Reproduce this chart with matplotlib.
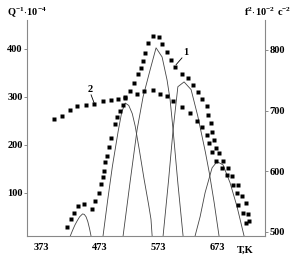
import matplotlib
matplotlib.use("Agg")
import matplotlib.pyplot as plt

plt.rcParams['font.family'] = ['Liberation Serif', 'DejaVu Serif']
plt.rcParams['font.weight'] = 'bold'
plt.rcParams['mathtext.fontset'] = 'custom'
plt.rcParams['mathtext.rm'] = 'Liberation Serif:bold'
plt.rcParams['mathtext.default'] = 'rm'

# curve 1: internal friction Q^-1 * 10^4 (left axis)
t1 = [416.6, 423.4, 428.6, 435.4, 445.6, 459.3, 464.5, 471.3, 474.7, 478.1,
      479.8, 481.5, 485.0, 488.4, 491.8, 498.6, 502.0, 507.2, 512.3, 515.7,
      524.3, 531.1, 538.0, 543.1, 546.5, 550.0, 555.0, 563.6, 573.9, 579.0,
      587.5, 594.4, 601.2, 613.2, 623.4, 632.0, 640.5, 647.4, 655.5, 657.6,
      662.7, 664.5, 667.9, 671.3, 676.4, 683.3, 691.8, 698.6, 708.9, 715.7,
      722.6, 726.0, 727.7]
q1 = [29, 46, 58, 73, 77, 67, 83, 100, 119, 133,
      146, 165, 177, 196, 215, 244, 258, 271, 283, 300,
      313, 329, 348, 360, 375, 392, 412, 427, 425, 410,
      394, 377, 363, 348, 340, 325, 310, 296, 281, 262,
      246, 227, 210, 194, 183, 167, 152, 135, 117, 94,
      79, 56, 42]

# curve 2: f^2 * 10^-2, s^-2 (right axis)
t2 = [394.4, 408.0, 421.7, 433.7, 449.0, 462.7, 478.1, 491.8, 503.8, 515.7,
      536.2, 548.2, 563.6, 575.6, 587.5, 597.8, 613.2, 626.8, 638.8, 647.4,
      655.9, 659.3, 664.5, 671.3, 681.5, 690.1, 700.3, 707.2, 708.9, 717.4,
      722.6]
f2 = [686, 691, 701, 708, 709, 711, 716, 717, 719, 721,
      727, 732, 734, 727, 724, 716, 706, 696, 683, 673,
      660, 647, 632, 617, 605, 594, 577, 564, 544, 531,
      515]

# decomposition peaks (left axis)
peak_a_t = [422, 426, 430, 434, 438, 443, 446, 449, 452, 455, 457.5]
peak_a_q = [10, 22, 33, 42, 50, 56, 55, 50, 40, 25, 10]
peak_b_t = [478, 486, 494, 504, 510, 516, 522, 528, 533, 540, 548, 556, 560, 562]
peak_b_q = [10, 85, 155, 229, 268, 287, 282, 265, 239, 190, 130, 75, 45, 10]
peak_c_t = [512.3, 524, 536.2, 546.5, 558.5, 568.7, 579.0, 587.5, 592.7, 597.8, 606, 614.9]
peak_c_q = [10, 120, 231, 300, 356, 402, 383, 335, 294, 231, 120, 10]
peak_e_t = [580.7, 590, 597.8, 606, 616.6, 628.6, 640, 653, 660, 668, 676.4]
peak_e_q = [10, 125, 231, 321, 331, 315, 260, 185, 140, 80, 10]
peak_d_t = [635.4, 644, 652.5, 664.5, 673, 683.3, 695.2, 707.2, 719.2]
peak_d_q = [10, 50, 100, 152, 165, 158, 121, 71, 10]

x_ticks = [373, 473, 573, 673]
q_ticks = [100, 200, 300, 400]
f_ticks = [500, 600, 700, 800]

fig = plt.figure(figsize=(3.02, 2.59), dpi=100)
ax = fig.add_axes([0.0894, 0.0888, 0.7881, 0.834])
ax2 = ax.twinx()

line_kw = dict(color='#444444', lw=0.6)
for tt, qq in [(peak_a_t, peak_a_q), (peak_b_t, peak_b_q), (peak_c_t, peak_c_q),
               (peak_e_t, peak_e_q), (peak_d_t, peak_d_q)]:
    ax.plot(tt, qq, **line_kw)

ax.plot(t1, q1, 's', color='black', ms=2.5, mec='none')
ax2.plot(t2, f2, 's', color='black', ms=2.5, mec='none')

ax.set_xlim(348, 755)
ax.set_ylim(10, 460)
ax2.set_ylim(493.4, 849)

ax.set_xticks(x_ticks)
ax.set_yticks(q_ticks)
ax2.set_yticks(f_ticks)
fs = 7.5
ax.tick_params(axis='x', length=0, pad=5, labelsize=fs, colors='black')
ax.tick_params(axis='y', length=2, width=0.6, pad=1, labelsize=fs, colors='#777777', labelcolor='black')
ax2.tick_params(axis='y', length=2, width=0.6, pad=1, labelsize=fs, colors='#777777', labelcolor='black')

for a in (ax, ax2):
    a.spines['top'].set_visible(False)
ax.spines['right'].set_visible(False)
ax2.spines['left'].set_visible(False)
ax2.spines['bottom'].set_visible(False)
ax.spines['left'].set_color('#888888')
ax.spines['bottom'].set_color('#888888')
ax2.spines['right'].set_color('#888888')
for s in ('left', 'bottom'):
    ax.spines[s].set_linewidth(0.8)
ax2.spines['right'].set_linewidth(0.8)

# annotations
ax.plot([603, 613], [367, 381], color='black', lw=0.6)
ax.text(615, 383, '1', fontsize=fs, ha='left', va='bottom')
ax.plot([457.6, 462.7], [304, 287.5], color='black', lw=0.6)
ax.text(456, 306, '2', fontsize=fs, ha='center', va='bottom')

fig.text(27 / 302, 1 - 12 / 259, r'$Q^{-1}\!\cdot\!10^{-4}$', fontsize=fs, ha='center', va='center')
fig.text(268 / 302, 1 - 12 / 259, r'$f^{2}\!\cdot\!10^{-2}\ c^{-2}$', fontsize=fs, ha='center', va='center')
fig.text(245 / 302, 1 - 250 / 259, 'T,K', fontsize=fs, ha='center', va='center')

fig.savefig('out.png', dpi=100)
